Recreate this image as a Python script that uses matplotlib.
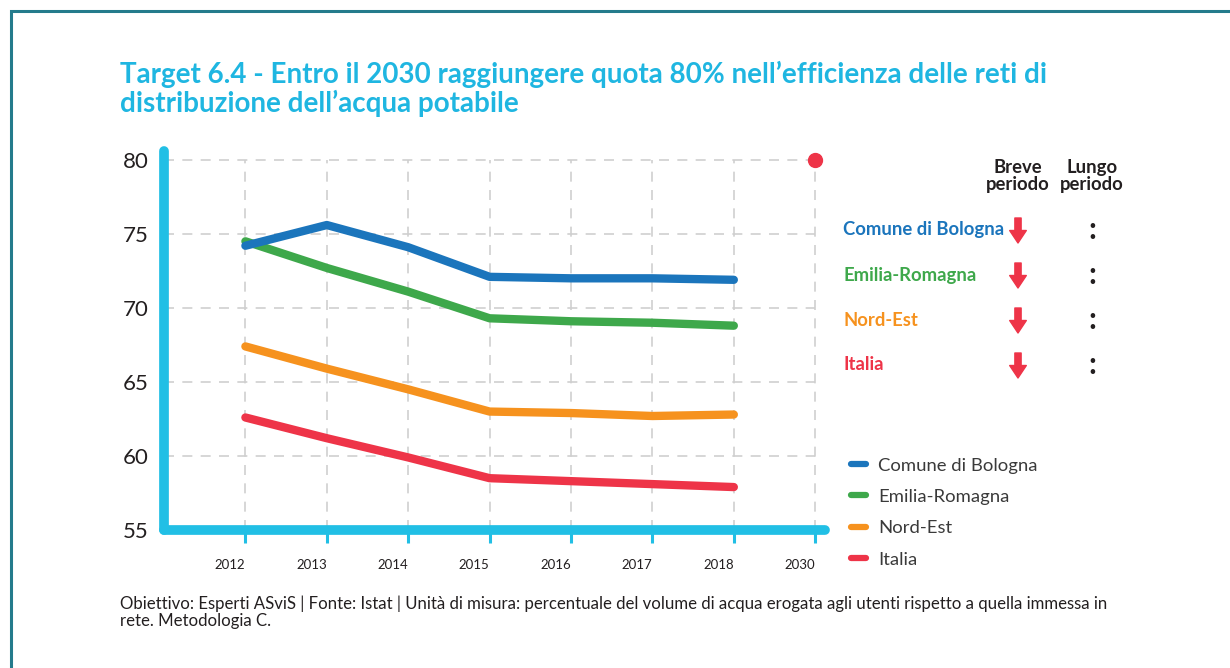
import matplotlib
matplotlib.use('Agg')
import matplotlib.pyplot as plt
from matplotlib.lines import Line2D
from matplotlib.patches import Rectangle

# data
years = ['2012', '2013', '2014', '2015', '2016', '2017', '2018', '2030']
bologna = [74.2, 75.6, 74.1, 72.1, 72.0, 72.0, 71.9]
emilia = [74.5, 72.7, 71.1, 69.3, 69.1, 69.0, 68.8]
nord_est = [67.4, 65.9, 64.5, 63.0, 62.9, 62.7, 62.8]
italia = [62.6, 61.2, 59.9, 58.5, 58.3, 58.1, 57.9]
target = 80
series_names = ['Comune di Bologna', 'Emilia-Romagna', 'Nord-Est', 'Italia']
y_ticks = [55, 60, 65, 70, 75, 80]

CYAN = '#21bfe5'
BLUE = '#1b75bc'
GREEN = '#3ea84b'
ORANGE = '#f6921e'
RED = '#ee3448'
DARK = '#231f20'
colors = [BLUE, GREEN, ORANGE, RED]

plt.rcParams['font.family'] = ['Lato', 'DejaVu Sans']

W, H = 1230, 668
fig = plt.figure(figsize=(W / 100, H / 100), dpi=100)

# outer frame
fig.add_artist(Rectangle((11 / W, -0.05), 1.1, (H - 11) / H + 0.05,
                         transform=fig.transFigure, fill=False,
                         edgecolor='#247b8c', linewidth=2.2))

fig.text(120 / W, 1 - 89 / H,
         'Target 6.4 - Entro il 2030 raggiungere quota 80% nell\u2019efficienza delle reti di\n'
         'distribuzione dell\u2019acqua potabile',
         color='#1fb6e1', fontsize=20, fontweight='bold', va='center',
         ha='left', linespacing=1.06)

# main axes: index -1 at x=164px, index 7 at x=815px ; 55 at y=530, 80 at y=160
ax_left, ax_right = 164, 825
ax_bottom, ax_top = 530, 151
ax = fig.add_axes([ax_left / W, 1 - ax_bottom / H,
                   (ax_right - ax_left) / W, (ax_bottom - ax_top) / H])
xs = list(range(len(years)))
ax.set_xlim(-1, 7.12)
ax.set_ylim(55, 80.6)

ax.hlines(y_ticks[1:], -1, 7, colors='#cfcfcf', linestyles=(0, (6, 5)), linewidth=1.2, zorder=1)
ax.vlines(xs, 55, 80, colors='#cfcfcf', linestyles=(0, (6, 5)), linewidth=1.2, zorder=1)

for vals, c in zip([italia, nord_est, emilia, bologna], [RED, ORANGE, GREEN, BLUE]):
    ax.plot(xs[:len(vals)], vals, color=c, linewidth=6, solid_capstyle='round',
            solid_joinstyle='round', zorder=3)
ax.plot([xs[-1]], [target], 'o', color=RED, markersize=10, clip_on=False, zorder=4)

for side in ['top', 'right']:
    ax.spines[side].set_visible(False)
for side in ['left', 'bottom']:
    ax.spines[side].set_color(CYAN)
    ax.spines[side].set_linewidth(7)
    ax.spines[side].set_capstyle('round')

ax.set_yticks(y_ticks)
ax.set_yticklabels([str(v) for v in y_ticks], fontsize=16, color=DARK)
ax.tick_params(axis='y', length=0, pad=11)
ax.set_xticks(xs)
ax.set_xticklabels(years, fontsize=9.5, color=DARK, ha='right')
ax.tick_params(axis='x', length=9, width=2.2, color=CYAN, pad=12)

# trend table on the right
fig.text(1018 / W, 1 - 176 / H, 'Breve\nperiodo', ha='center', va='center',
         fontsize=13.3, fontweight='bold', color=DARK, linespacing=0.95)
fig.text(1092 / W, 1 - 176 / H, 'Lungo\nperiodo', ha='center', va='center',
         fontsize=13.3, fontweight='bold', color=DARK, linespacing=0.95)
row_y = [230, 275, 320, 365]
for name, c, yy in zip(series_names, colors, row_y):
    fig.text(843 / W, 1 - yy / H, name, ha='left', va='center', fontsize=13.3,
             fontweight='bold', color=c)
    fig.add_artist(plt.Annotation('', xy=(1018, H - yy - 13), xytext=(1018, H - yy + 12),
                                  xycoords='figure pixels', textcoords='figure pixels',
                                  arrowprops=dict(arrowstyle='simple,head_width=1.2,head_length=0.9,tail_width=0.45',
                                                  color=RED, shrinkA=0, shrinkB=0)))
    fig.text(1092 / W, 1 - yy / H, ':', ha='center', va='center', fontsize=22,
             fontweight='bold', color=DARK)

handles = [Line2D([0], [0], color=c, linewidth=4.5, solid_capstyle='round') for c in colors]
fig.legend(handles, series_names, loc='upper left',
           bbox_to_anchor=(834 / W, 1 - 441 / H), frameon=False, fontsize=13.3,
           handlelength=0.85, handletextpad=0.65, labelspacing=0.83, labelcolor='#3a3a3a')

fig.text(120 / W, 1 - 612 / H,
         'Obiettivo: Esperti ASviS | Fonte: Istat | Unit\u00e0 di misura: percentuale del volume di acqua '
         'erogata agli utenti rispetto a quella immessa in\nrete. Metodologia C.',
         ha='left', va='center', fontsize=12.1, color=DARK, linespacing=1.05)

fig.savefig('out.png', dpi=100, facecolor='white')
